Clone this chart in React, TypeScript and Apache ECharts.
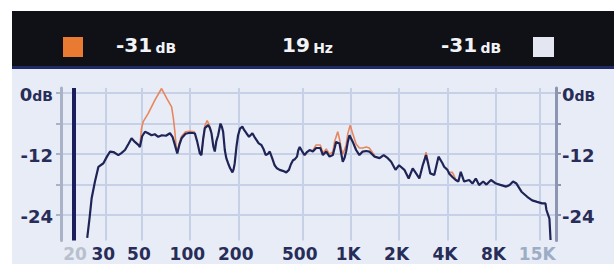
import React, { useEffect, useRef } from 'react';
import * as echarts from 'echarts';

// ---- header readouts ----
const cursorFreqHz = 19;
const leftLevelDb = -31;
const rightLevelDb = -31;

// ---- axes ----
const freqTicks = [20, 30, 50, 100, 200, 500, 1000, 2000, 4000, 8000, 15000];
const freqTickLabels = ['20', '30', '50', '100', '200', '500', '1K', '2K', '4K', '8K', '15K'];
const gridFreqs = [30, 50, 100, 200, 500, 1000, 2000, 4000, 8000, 15000];
const freqRange = [15.8, 18920];
const dbTicks = [0, -6, -12, -18, -24];
const dbLabels = [0, -12, -24];
const dbRange = [-29, 1];

// ---- dark (front) trace: [Hz, dB] ----
const darkTrace: [number, number][] = [
  [23.0, -28.5], [23.8, -24.5], [24.5, -20.7], [25.7, -17.4], [27.0, -14.5], [29.0, -13.8],
  [30.5, -12.5], [31.9, -11.5], [33.5, -11.6], [35.9, -12.2], [37.5, -11.8], [39.5, -11.2],
  [41.5, -10.0], [43.4, -8.9], [45.5, -9.6], [47.8, -10.2], [48.9, -10.6], [50.5, -8.5],
  [52.6, -7.6], [55.0, -7.9], [57.8, -8.3], [60.5, -8.1], [63.6, -8.6], [67.0, -8.3],
  [71.0, -8.4], [75.2, -7.9], [78.0, -8.6], [80.7, -10.2], [83.5, -11.9], [86.0, -10.2],
  [88.8, -8.9], [94.0, -8.0], [100, -7.8], [107.4, -7.9], [111, -9.5], [115.4, -11.9],
  [118, -12.2], [121, -9.0], [123.9, -6.9], [129.9, -6.3], [133, -6.8], [136.3, -7.9],
  [140, -10.5], [142.9, -11.5], [146, -9.5], [149.9, -8.3], [155, -6.0], [158, -6.6],
  [161, -7.6], [164.9, -11.2], [168.5, -12.8], [172.9, -13.8], [178, -14.8], [184, -15.6],
  [187, -15.0], [190.1, -13.8], [195, -10.5], [199.5, -8.3], [205, -7.0], [212, -6.6],
  [218, -7.3], [224.8, -7.9], [233.3, -8.6], [244.9, -7.9], [252, -8.6], [259.3, -9.2],
  [268, -9.9], [278.5, -10.2], [287, -11.0], [296.5, -12.2], [305, -12.0], [314, -11.5],
  [325, -12.8], [336.7, -14.2], [348, -14.8], [361.6, -15.1], [378, -15.3], [397.8, -15.6],
  [413, -15.1], [425, -14.0], [438, -13.2], [450, -13.0], [463.9, -12.5], [472, -11.3],
  [482, -10.6], [498, -11.4], [517, -12.2], [535, -11.6], [555.6, -11.2], [582, -11.5],
  [610, -10.8], [647, -10.8], [672, -12.2], [705, -11.5], [739, -12.5], [774, -12.2],
  [795, -10.8], [812, -9.6], [852, -9.9], [875, -12.0], [893, -13.5], [915, -12.8],
  [937, -11.5], [960, -9.6], [983, -8.3], [1031, -9.6], [1081, -11.2], [1133, -12.2],
  [1188, -11.5], [1250, -11.4], [1306, -11.5], [1409, -12.5], [1513, -12.8], [1604, -12.2],
  [1702, -12.8], [1786, -13.5], [1900, -15.1], [2000, -14.2], [2158, -15.1], [2295, -16.8],
  [2431, -14.8], [2552, -15.8], [2674, -16.8], [2806, -14.2], [2941, -12.2], [3030, -13.8],
  [3127, -15.8], [3310, -16.1], [3420, -14.2], [3518, -12.5], [3723, -13.8], [3813, -14.5],
  [4000, -15.1], [4092, -15.8], [4292, -16.5], [4500, -17.1], [4675, -17.4], [4838, -15.5],
  [5078, -17.4], [5455, -17.1], [5720, -17.8], [6000, -16.8], [6290, -18.1], [6670, -17.4],
  [6990, -18.0], [7460, -17.1], [8010, -17.8], [8620, -18.1], [9270, -18.4], [9740, -18.1],
  [10230, -17.4], [10740, -17.8], [11540, -19.4], [12530, -20.4], [13450, -21.1], [14430, -21.4],
  [15500, -21.7], [16270, -21.7], [16500, -23.0], [17220, -24.7], [17500, -28.9],
];

// ---- orange (back) trace, visible stretches only: [Hz, dB] ----
const orangeLowPeak: [number, number][] = [
  [47.8, -10.2], [48.9, -10.4], [50.0, -7.0], [51.3, -5.6], [55.1, -4.0], [60.6, -1.4],
  [66.7, 0.9], [71.7, -1.0], [77, -2.7], [79, -5.0], [80.7, -7.6], [82.4, -11.0],
  [83.5, -11.5], [86, -9.8], [88.8, -8.5], [94, -7.6], [100, -7.5], [107.4, -7.6],
];
const orangeMid: [number, number][] = [
  [118, -12.0], [123.9, -6.5], [128, -5.4], [131, -6.0], [136.3, -7.7],
];
const orangeKiloHz: [number, number][] = [
  [582, -11.3], [610, -10.2], [647, -10.2], [672, -11.8], [705, -11.0], [739, -12.0],
  [774, -11.6], [795, -9.5], [831, -7.6], [852, -9.0], [875, -11.0], [893, -12.0],
  [915, -11.2], [937, -10.2], [960, -8.0], [993, -6.3], [1031, -8.0], [1081, -10.0],
  [1133, -10.8], [1188, -10.8], [1250, -10.6], [1306, -10.8], [1360, -11.6], [1409, -12.3],
];
const orange3k: [number, number][] = [[2850, -13.8], [2941, -11.6], [3030, -13.5]];
const orange4k: [number, number][] = [[4092, -15.6], [4292, -15.6], [4400, -16.3], [4500, -17.0]];
const orangeSegments = [orangeLowPeak, orangeMid, orangeKiloHz, orange3k, orange4k];

const FONT = '"DejaVu Sans", Verdana, sans-serif';
const DARK = '#1f2457';
const ORANGE = '#e8875e';
const GRID = '#c6d0e6';
const LABEL = '#272c58';

const toXY = (t: [number, number][]) => t.map(([f, db]) => [Math.log10(f), db]);

function yAxisCfg(position: 'left' | 'right', lineColor: string, split: boolean) {
  return {
    type: 'value',
    position,
    min: dbRange[0],
    max: dbRange[1],
    axisLine: { show: true, lineStyle: { color: lineColor, width: 3 } },
    axisTick: { show: true, customValues: dbTicks, length: 5, lineStyle: { color: lineColor, width: 2 } },
    axisLabel: {
      show: true,
      customValues: dbLabels,
      margin: position === 'left' ? 8 : 6,
      formatter: (v: number) => (Math.abs(v) < 1e-9 ? '{a|0}{b|dB}' : `{a|${v}}`),
      rich: {
        a: { fontFamily: FONT, fontWeight: 'bold', fontSize: 18, color: LABEL, verticalAlign: 'bottom', lineHeight: 20 },
        b: { fontFamily: FONT, fontWeight: 'bold', fontSize: 14, color: LABEL, verticalAlign: 'bottom', lineHeight: 20 },
      },
    },
    splitLine: { show: split, lineStyle: { color: GRID, width: 2 } },
  };
}

export default function App() {
  const ref = useRef<HTMLDivElement>(null);
  useEffect(() => {
    if (!ref.current) return;
    const chart = echarts.init(ref.current, undefined, { renderer: 'svg' });
    const labelStyle = (color: string) => ({
      fontFamily: FONT, fontWeight: 'bold', fontSize: 17, color, padding: [0, 5, 0, 0],
    });
    const option: any = {
      animation: false,
      backgroundColor: '#e8ecf6',
      grid: { left: 61, right: 58, top: 88, bottom: 23.5, containLabel: false },
      xAxis: {
        type: 'value',
        min: Math.log10(freqRange[0]),
        max: Math.log10(freqRange[1]),
        axisLine: { show: false },
        axisTick: { show: false, customValues: gridFreqs.map((f) => Math.log10(f)) },
        splitLine: { show: true, lineStyle: { color: GRID, width: 2 } },
        axisLabel: {
          show: true,
          margin: 5,
          customValues: freqTicks.map((f) => Math.log10(f)),
          formatter: (v: number) => {
            const i = freqTicks.findIndex((f) => Math.abs(Math.log10(f) - v) < 1e-6);
            if (i < 0) return '';
            const cls = i === 0 ? 'g' : i === freqTicks.length - 1 ? 'l' : 'n';
            return `{${cls}|${freqTickLabels[i]}}`;
          },
          rich: {
            g: labelStyle('#b8c0cd'),
            n: labelStyle(LABEL),
            l: labelStyle('#9dadc6'),
          },
        },
      },
      yAxis: [yAxisCfg('left', '#a9b2c7', true), yAxisCfg('right', '#8c96b1', false)],
      graphic: [
        { type: 'rect', shape: { x: 0, y: 0, width: 614, height: 11 }, style: { fill: '#ffffff' } },
        { type: 'rect', shape: { x: 0, y: 0, width: 12, height: 264 }, style: { fill: '#ffffff' } },
        { type: 'rect', shape: { x: 12, y: 11, width: 602, height: 56 }, style: { fill: '#0f1117' } },
        { type: 'rect', shape: { x: 12, y: 66, width: 602, height: 3 }, style: { fill: '#1f2b66' } },
        { type: 'rect', shape: { x: 63, y: 37, width: 20, height: 20 }, style: { fill: '#e87a32' } },
        { type: 'rect', shape: { x: 533, y: 37, width: 21, height: 20 }, style: { fill: '#e4e7f1' } },
        {
          type: 'text', x: 116, y: 55,
          style: {
            text: `{a|${leftLevelDb}} {b|dB}`, verticalAlign: 'bottom',
            rich: {
              a: { fontFamily: FONT, fontWeight: 'bold', fontSize: 20, fill: '#f2f3f7', verticalAlign: 'bottom', lineHeight: 22 },
              b: { fontFamily: FONT, fontWeight: 'bold', fontSize: 14, fill: '#f2f3f7', verticalAlign: 'bottom', lineHeight: 22 },
            },
          },
        },
        {
          type: 'text', x: 282, y: 55,
          style: {
            text: `{a|${cursorFreqHz}} {b|Hz}`, verticalAlign: 'bottom',
            rich: {
              a: { fontFamily: FONT, fontWeight: 'bold', fontSize: 20, fill: '#f2f3f7', verticalAlign: 'bottom', lineHeight: 22 },
              b: { fontFamily: FONT, fontWeight: 'bold', fontSize: 14, fill: '#f2f3f7', verticalAlign: 'bottom', lineHeight: 22 },
            },
          },
        },
        {
          type: 'text', x: 441, y: 55,
          style: {
            text: `{a|${rightLevelDb}} {b|dB}`, verticalAlign: 'bottom',
            rich: {
              a: { fontFamily: FONT, fontWeight: 'bold', fontSize: 20, fill: '#f2f3f7', verticalAlign: 'bottom', lineHeight: 22 },
              b: { fontFamily: FONT, fontWeight: 'bold', fontSize: 14, fill: '#f2f3f7', verticalAlign: 'bottom', lineHeight: 22 },
            },
          },
        },
      ],
      series: [
        ...orangeSegments.map((seg, i) => ({
          name: `ref${i}`,
          type: 'line',
          data: toXY(seg),
          showSymbol: false,
          silent: true,
          z: 2,
          lineStyle: { color: ORANGE, width: 1.6 },
        })),
        {
          name: 'live',
          type: 'line',
          data: toXY(darkTrace),
          showSymbol: false,
          silent: true,
          z: 3,
          lineStyle: { color: DARK, width: 2.2 },
          markLine: {
            silent: true,
            symbol: ['none', 'none'],
            label: { show: false },
            lineStyle: { color: '#1b1e5c', width: 4, type: 'solid' },
            data: [{ xAxis: Math.log10(cursorFreqHz) }],
          },
        },
      ],
    };
    chart.setOption(option);
    return () => chart.dispose();
  }, []);
  return <div ref={ref} style={{ position: 'absolute', left: 0, top: 0, width: 614, height: 264 }} />;
}
